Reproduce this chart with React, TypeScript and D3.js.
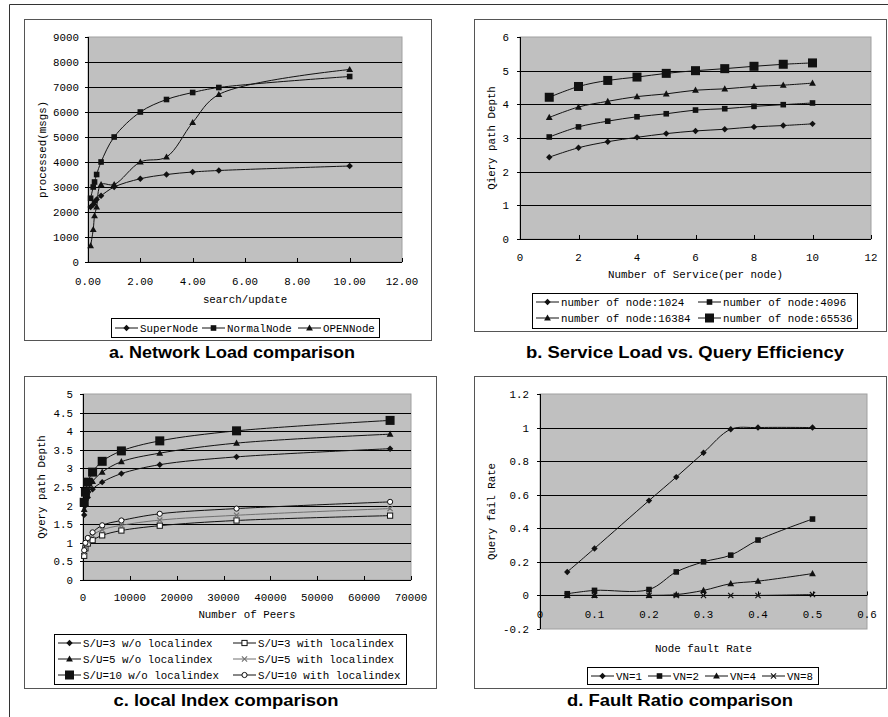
import React from 'react';
import * as d3 from 'd3';

// ---- data ----

// a. Network Load comparison
const loadRatio = [0.1, 0.2, 0.25, 0.33, 0.5, 1, 2, 3, 4, 5, 10];
const superNode = [2200, 2300, 2400, 2500, 2650, 3000, 3330, 3500, 3600, 3660, 3840];
const normalNode = [2550, 3000, 3200, 3500, 4000, 5000, 6000, 6500, 6780, 6980, 7420];
const openNode = [650, 1300, 1850, 2200, 3100, 3100, 4000, 4200, 5580, 6700, 7700];
const loadXTicks = [0, 2, 4, 6, 8, 10, 12];
const loadYTicks = [0, 1000, 2000, 3000, 4000, 5000, 6000, 7000, 8000, 9000];

// b. Service Load vs. Query Efficiency
const services = [1, 2, 3, 4, 5, 6, 7, 8, 9, 10];
const nodes1024 = [2.43, 2.71, 2.89, 3.02, 3.13, 3.21, 3.26, 3.33, 3.37, 3.42];
const nodes4096 = [3.03, 3.33, 3.5, 3.63, 3.72, 3.83, 3.87, 3.94, 3.99, 4.04];
const nodes16384 = [3.61, 3.92, 4.09, 4.23, 4.31, 4.42, 4.46, 4.53, 4.57, 4.63];
const nodes65536 = [4.21, 4.53, 4.71, 4.81, 4.92, 5.0, 5.06, 5.13, 5.19, 5.23];
const serviceXTicks = [0, 2, 4, 6, 8, 10, 12];
const serviceYTicks = [0, 1, 2, 3, 4, 5, 6];

// c. local Index comparison
const peers = [256, 512, 1024, 2048, 4096, 8192, 16384, 32768, 65536];
const su3NoIdx = [1.75, 2.0, 2.22, 2.44, 2.63, 2.86, 3.1, 3.31, 3.53];
const su5NoIdx = [1.9, 2.2, 2.42, 2.65, 2.9, 3.18, 3.41, 3.68, 3.92];
const su10NoIdx = [2.09, 2.36, 2.63, 2.9, 3.19, 3.47, 3.74, 4.01, 4.29];
const su3Idx = [0.65, 0.85, 0.98, 1.07, 1.2, 1.33, 1.46, 1.6, 1.73];
const su5Idx = [0.73, 0.9, 1.05, 1.2, 1.35, 1.47, 1.61, 1.74, 1.92];
const su10Idx = [0.8, 1.0, 1.13, 1.28, 1.47, 1.6, 1.78, 1.92, 2.1];
const peerXTicks = [0, 10000, 20000, 30000, 40000, 50000, 60000, 70000];
const peerYTicks = [0, 0.5, 1, 1.5, 2, 2.5, 3, 3.5, 4, 4.5, 5];

// d. Fault Ratio comparison
const faultRate = [0.05, 0.1, 0.2, 0.25, 0.3, 0.35, 0.4, 0.5];
const vn1 = [0.14, 0.28, 0.565, 0.705, 0.85, 0.99, 1.0, 1.0];
const vn2 = [0.01, 0.03, 0.035, 0.14, 0.2, 0.24, 0.33, 0.455];
const vn4 = [0, 0, 0, 0.005, 0.03, 0.07, 0.085, 0.13];
const vn8 = [0, 0, 0, 0, 0, 0, 0, 0.005];
const faultXTicks = [0, 0.1, 0.2, 0.3, 0.4, 0.5, 0.6];
const faultYTicks = [-0.2, 0, 0.2, 0.4, 0.6, 0.8, 1, 1.2];

const MONO = '"Liberation Mono", "DejaVu Sans Mono", monospace';
const TITLE = '"Liberation Sans", Arial, sans-serif';
const FS = 10.8;

type Mk = 'diamond' | 'square' | 'bigsquare' | 'triangle' | 'osquare' | 'cross' | 'circle';

function Marker({ type, x, y, color }: { type: Mk; x: number; y: number; color: string }) {
    switch (type) {
        case 'diamond':
            return <path d={`M${x},${y - 3.2}L${x + 3.2},${y}L${x},${y + 3.2}L${x - 3.2},${y}Z`} fill={color} />;
        case 'square':
            return <rect x={x - 2.8} y={y - 2.8} width={5.6} height={5.6} fill={color} />;
        case 'bigsquare':
            return <rect x={x - 4.5} y={y - 4.5} width={9} height={9} fill={color} />;
        case 'triangle':
            return <path d={`M${x},${y - 3.6}L${x + 3.4},${y + 2.6}L${x - 3.4},${y + 2.6}Z`} fill={color} />;
        case 'osquare':
            return <rect x={x - 2.6} y={y - 2.6} width={5.2} height={5.2} fill="white" stroke={color} strokeWidth={1} />;
        case 'cross':
            return <path d={`M${x - 2.6},${y - 2.6}L${x + 2.6},${y + 2.6}M${x + 2.6},${y - 2.6}L${x - 2.6},${y + 2.6}`} stroke={color} strokeWidth={1.1} />;
        case 'circle':
            return <circle cx={x} cy={y} r={2.6} fill="white" stroke={color} strokeWidth={1} />;
    }
    return null;
}

type Series = { name: string; xs: number[]; ys: number[]; marker: Mk; color?: string };

type PanelCfg = {
    box: [number, number, number, number];
    plot: [number, number, number, number];
    xDomain: [number, number];
    yDomain: [number, number];
    xTicks: number[];
    yTicks: number[];
    xFmt: (v: number) => string;
    yFmt: (v: number) => string;
    xAxisAt?: number;
    xTickBase: number;
    yTickRight: number;
    xLabel: string;
    xLabelY: number;
    yLabel: string;
    yLabelX: number;
    series: Series[];
    legendBox: [number, number, number, number];
    legendPos: [number, number][];
    title: string;
    titleX: number;
    titleY: number;
    titleLen: number;
};

function Txt(props: any) {
    return <text fontFamily={MONO} fontSize={FS} {...props} />;
}

function Panel({ cfg }: { cfg: PanelCfg }) {
    const [bx0, by0, bx1, by1] = cfg.box;
    const [px0, py0, px1, py1] = cfg.plot;
    const x = d3.scaleLinear().domain(cfg.xDomain).range([px0, px1]);
    const y = d3.scaleLinear().domain(cfg.yDomain).range([py1, py0]);
    const axisY = y(cfg.xAxisAt ?? cfg.yDomain[0]);
    const line = d3.line<[number, number]>()
        .x(d => x(d[0]))
        .y(d => y(d[1]))
        .curve(d3.curveCatmullRom.alpha(0.5));
    const [lx0, ly0, lx1, ly1] = cfg.legendBox;
    const midX = (px0 + px1) / 2;
    const midY = (py0 + py1) / 2;

    return (
        <g>
            <rect x={bx0 + 0.5} y={by0 + 0.5} width={bx1 - bx0} height={by1 - by0} fill="white" stroke="#555" />
            <rect x={px0} y={py0} width={px1 - px0} height={py1 - py0} fill="#c0c0c0" stroke="#a0a0a0" />
            {cfg.yTicks.filter(t => t > cfg.yDomain[0] && t < cfg.yDomain[1] && t !== cfg.xAxisAt).map(t => (
                <line key={t} x1={px0} x2={px1} y1={Math.round(y(t)) + 0.5} y2={Math.round(y(t)) + 0.5} stroke="black" />
            ))}
            {/* axes */}
            <line x1={px0 + 0.5} x2={px0 + 0.5} y1={py0} y2={py1} stroke="black" />
            <line x1={px0} x2={px1} y1={Math.round(axisY) + 0.5} y2={Math.round(axisY) + 0.5} stroke="black" />
            {cfg.yTicks.map(t => (
                <g key={t}>
                    <line x1={px0 - 3} x2={px0} y1={Math.round(y(t)) + 0.5} y2={Math.round(y(t)) + 0.5} stroke="black" />
                    <Txt x={cfg.yTickRight} y={y(t) + 4} textAnchor="end">{cfg.yFmt(t)}</Txt>
                </g>
            ))}
            {cfg.xTicks.map(t => (
                <g key={t}>
                    <line x1={Math.round(x(t)) + 0.5} x2={Math.round(x(t)) + 0.5} y1={axisY - 4} y2={axisY} stroke="black" />
                    <Txt x={x(t)} y={cfg.xTickBase} textAnchor="middle">{cfg.xFmt(t)}</Txt>
                </g>
            ))}
            <Txt x={midX} y={cfg.xLabelY} textAnchor="middle">{cfg.xLabel}</Txt>
            <Txt transform={`translate(${cfg.yLabelX},${midY}) rotate(-90)`} textAnchor="middle">{cfg.yLabel}</Txt>

            {cfg.series.map(s => {
                const pts = s.xs.map((v, i) => [v, s.ys[i]] as [number, number]);
                const c = s.color ?? '#111';
                return (
                    <g key={s.name}>
                        <path d={line(pts) ?? ''} fill="none" stroke={c} strokeWidth={1} />
                        {pts.map((p, i) => <Marker key={i} type={s.marker} x={x(p[0])} y={y(p[1])} color={c} />)}
                    </g>
                );
            })}

            <rect x={lx0 + 0.5} y={ly0 + 0.5} width={lx1 - lx0} height={ly1 - ly0} fill="white" stroke="black" />
            {cfg.series.map((s, i) => {
                const [ex, ey] = cfg.legendPos[i];
                const c = s.color ?? '#111';
                return (
                    <g key={s.name}>
                        <line x1={ex} x2={ex + 23} y1={ey} y2={ey} stroke={c} />
                        <Marker type={s.marker} x={ex + 11.5} y={ey} color={c} />
                        <Txt x={ex + 25} y={ey + 4}>{s.name}</Txt>
                    </g>
                );
            })}

            <text x={cfg.titleX} y={cfg.titleY} textAnchor="middle" fontFamily={TITLE} fontWeight="bold" fontSize={17}
                textLength={cfg.titleLen} lengthAdjust="spacingAndGlyphs">{cfg.title}</text>
        </g>
    );
}

const fmt2 = d3.format('.2f');
const plain = (v: number) => String(+v.toFixed(2));

const panels: PanelCfg[] = [
    {
        box: [24, 19, 431, 340],
        plot: [88, 37, 402, 262],
        xDomain: [0, 12], yDomain: [0, 9000],
        xTicks: loadXTicks, yTicks: loadYTicks,
        xFmt: fmt2, yFmt: plain,
        xTickBase: 285, yTickRight: 79,
        xLabel: 'search/update', xLabelY: 303,
        yLabel: 'processed(msgs)', yLabelX: 46,
        series: [
            { name: 'SuperNode', xs: loadRatio, ys: superNode, marker: 'diamond' },
            { name: 'NormalNode', xs: loadRatio, ys: normalNode, marker: 'square' },
            { name: 'OPENNode', xs: loadRatio, ys: openNode, marker: 'triangle' },
        ],
        legendBox: [111, 318, 379, 337],
        legendPos: [[115, 328], [202, 328], [298, 328]],
        title: 'a. Network Load comparison', titleX: 232, titleY: 358, titleLen: 246,
    },
    {
        box: [474, 19, 886, 331],
        plot: [520, 37, 871, 239],
        xDomain: [0, 12], yDomain: [0, 6],
        xTicks: serviceXTicks, yTicks: serviceYTicks,
        xFmt: plain, yFmt: plain,
        xTickBase: 261, yTickRight: 509,
        xLabel: 'Number of Service(per node)', xLabelY: 278,
        yLabel: 'Qiery path Depth', yLabelX: 495,
        series: [
            { name: 'number of node:1024', xs: services, ys: nodes1024, marker: 'diamond' },
            { name: 'number of node:4096', xs: services, ys: nodes4096, marker: 'square' },
            { name: 'number of node:16384', xs: services, ys: nodes16384, marker: 'triangle' },
            { name: 'number of node:65536', xs: services, ys: nodes65536, marker: 'bigsquare' },
        ],
        legendBox: [532, 293, 857, 328],
        legendPos: [[536, 302], [698, 302], [536, 318], [698, 318]],
        title: 'b. Service Load vs. Query Efficiency', titleX: 685, titleY: 358, titleLen: 318,
    },
    {
        box: [24, 376, 436, 688],
        plot: [83, 394, 411, 580],
        xDomain: [0, 70000], yDomain: [0, 5],
        xTicks: peerXTicks, yTicks: peerYTicks,
        xFmt: plain, yFmt: plain,
        xTickBase: 601, yTickRight: 73,
        xLabel: 'Number of Peers', xLabelY: 618,
        yLabel: 'Qyery path Depth', yLabelX: 45,
        series: [
            { name: 'S/U=3 w/o localindex', xs: peers, ys: su3NoIdx, marker: 'diamond' },
            { name: 'S/U=3 with localindex', xs: peers, ys: su3Idx, marker: 'osquare' },
            { name: 'S/U=5 w/o localindex', xs: peers, ys: su5NoIdx, marker: 'triangle' },
            { name: 'S/U=5 with localindex', xs: peers, ys: su5Idx, marker: 'cross', color: '#707070' },
            { name: 'S/U=10 w/o localindex', xs: peers, ys: su10NoIdx, marker: 'bigsquare' },
            { name: 'S/U=10 with localindex', xs: peers, ys: su10Idx, marker: 'circle' },
        ],
        legendBox: [54, 634, 406, 684],
        legendPos: [[58, 643], [233, 643], [58, 659], [233, 659], [58, 675], [233, 675]],
        title: 'c. local Index comparison', titleX: 226, titleY: 706, titleLen: 225,
    },
    {
        box: [474, 376, 886, 688],
        plot: [540, 394, 867, 629],
        xDomain: [0, 0.6], yDomain: [-0.2, 1.2],
        xTicks: faultXTicks, yTicks: faultYTicks,
        xFmt: plain, yFmt: plain,
        xAxisAt: 0,
        xTickBase: 618, yTickRight: 529,
        xLabel: 'Node fault Rate', xLabelY: 652,
        yLabel: 'Query fail Rate', yLabelX: 495,
        series: [
            { name: 'VN=1', xs: faultRate, ys: vn1, marker: 'diamond' },
            { name: 'VN=2', xs: faultRate, ys: vn2, marker: 'square' },
            { name: 'VN=4', xs: faultRate, ys: vn4, marker: 'triangle' },
            { name: 'VN=8', xs: faultRate, ys: vn8, marker: 'cross' },
        ],
        legendBox: [587, 667, 818, 684],
        legendPos: [[591, 676], [648, 676], [705, 676], [762, 676]],
        title: 'd. Fault Ratio comparison', titleX: 680, titleY: 706, titleLen: 226,
    },
];

export default function App() {
    return (
        <div style={{ position: 'absolute', left: 0, top: 0 }}>
            <svg width={888} height={717} style={{ display: 'block', background: 'white' }}>
                <line x1={9.5} x2={888} y1={4.5} y2={4.5} stroke="#333" />
                <line x1={9.5} x2={9.5} y1={4.5} y2={717} stroke="#333" />
                {panels.map((p, i) => <Panel key={i} cfg={p} />)}
            </svg>
        </div>
    );
}
